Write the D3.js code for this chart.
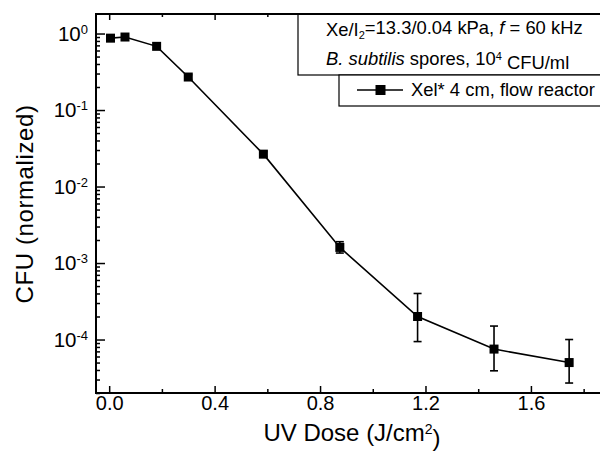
<!DOCTYPE html>
<html><head><meta charset="utf-8">
<script src="https://cdn.jsdelivr.net/npm/d3@7"></script>
<style>
body{margin:0;background:#fff;}
text{font-family:"Liberation Sans",Arial,sans-serif;fill:#000;}
</style></head>
<body><svg id="c" width="600" height="451"></svg>
<script>
// ---- data ----
const dose   = [0.005, 0.06, 0.18, 0.30, 0.585, 0.875, 1.17, 1.46, 1.745];
const cfu    = [0.87, 0.90, 0.68, 0.27, 0.0265, 0.0016, 0.0002, 0.000075, 0.00005];
const errLo  = [null, null, null, 0.25, 0.0245, 0.00135, 0.000094, 0.000039, 0.000027];
const errHi  = [null, null, null, 0.29, 0.0287, 0.0019, 0.0004, 0.00015, 0.0001];
const xTicks = [0, 0.4, 0.8, 1.2, 1.6];
const xMinor = [0.2, 0.6, 1.0, 1.4, 1.8];
const yExp   = [0, -1, -2, -3, -4];
const seriesName = "Xel* 4 cm, flow reactor";

const svg = d3.select("#c");
const L = 96, R = 610, T = 14, B = 393;
const x = d3.scaleLinear().domain([-0.05, 1.9]).range([L, R]);
const y = d3.scaleLog().domain([2e-5, 1.8]).range([B, T]);

// minor y ticks
const yMinor = [];
for (let e = -5; e <= 0; e++) for (let m = 2; m <= 9; m++) { const v = m * Math.pow(10, e); if (v >= 2e-5 && v <= 1.8) yMinor.push(v); }

// frame
svg.append("rect").attr("x", L).attr("y", T).attr("width", R - L).attr("height", B - T)
  .attr("fill", "none").attr("stroke", "#000").attr("stroke-width", 2);

// axes
const gx = svg.append("g").attr("transform", `translate(0,${B})`)
  .call(d3.axisBottom(x).tickValues(xTicks).tickSize(-7).tickPadding(4).tickFormat(d3.format(".1f")));
const gxm = svg.append("g").attr("transform", `translate(0,${B})`)
  .call(d3.axisBottom(x).tickValues(xMinor).tickSize(-4).tickFormat(""));
const gxt = svg.append("g").attr("transform", `translate(0,${T})`)
  .call(d3.axisTop(x).tickValues(xTicks).tickSize(-6).tickFormat(""));
const gxtm = svg.append("g").attr("transform", `translate(0,${T})`)
  .call(d3.axisTop(x).tickValues(xMinor).tickSize(-3).tickFormat(""));
const gy = svg.append("g").attr("transform", `translate(${L},0)`)
  .call(d3.axisLeft(y).tickValues(yExp.map(e => Math.pow(10, e))).tickSize(-9).tickFormat(""));
const gym = svg.append("g").attr("transform", `translate(${L},0)`)
  .call(d3.axisLeft(y).tickValues(yMinor).tickSize(-4).tickFormat(""));
[gx, gxm, gxt, gxtm, gy, gym].forEach(g => {
  g.select(".domain").remove();
  g.selectAll("line").attr("stroke", "#000").attr("stroke-width", 1.5);
});
gx.selectAll("text").attr("font-size", 20).attr("font-family", "Liberation Sans, Arial").attr("fill", "#000")
  .attr("dy", null).attr("y", 17);

// y tick labels with superscripts
yExp.forEach(e => {
  const t = svg.append("text").attr("x", 88).attr("y", y(Math.pow(10, e))).attr("dy", "0.36em")
    .attr("text-anchor", "end").attr("font-size", 20.5);
  t.append("tspan").text("10");
  t.append("tspan").attr("dy", "-0.55em").attr("font-size", 13).text(String(e));
});

// axis titles
svg.append("text").attr("x", 352).attr("y", 441).attr("text-anchor", "middle").attr("font-size", 24)
  .call(t => { t.append("tspan").text("UV Dose (J/cm");
               t.append("tspan").attr("dy", "-0.5em").attr("font-size", 14).text("2");
               t.append("tspan").attr("dy", "0.5em").text(")"); });
svg.append("text").attr("transform", "translate(33,204) rotate(-90)").attr("text-anchor", "middle")
  .attr("font-size", 24).attr("letter-spacing", 0.6).text("CFU (normalized)");

// series
const pts = dose.map((d, i) => ({ x: d, y: cfu[i], lo: errLo[i], hi: errHi[i] }));
svg.append("path").datum(pts).attr("fill", "none").attr("stroke", "#000").attr("stroke-width", 1.6)
  .attr("d", d3.line().x(d => x(d.x)).y(d => y(d.y)));
const eb = svg.append("g").attr("stroke", "#000").attr("stroke-width", 1.6);
pts.filter(d => d.lo != null).forEach(d => {
  const cx = x(d.x);
  eb.append("line").attr("x1", cx).attr("x2", cx).attr("y1", y(d.lo)).attr("y2", y(d.hi));
  eb.append("line").attr("x1", cx - 4).attr("x2", cx + 4).attr("y1", y(d.lo)).attr("y2", y(d.lo));
  eb.append("line").attr("x1", cx - 4).attr("x2", cx + 4).attr("y1", y(d.hi)).attr("y2", y(d.hi));
});
svg.append("g").selectAll("rect").data(pts).join("rect")
  .attr("x", d => x(d.x) - 4.5).attr("y", d => y(d.y) - 4.5).attr("width", 9).attr("height", 9).attr("fill", "#000");

// legend / annotation boxes
svg.append("rect").attr("x", 298).attr("y", T).attr("width", 320).attr("height", 61)
  .attr("fill", "#fff").attr("stroke", "#000").attr("stroke-width", 1.2);
svg.append("rect").attr("x", 339).attr("y", 75).attr("width", 280).attr("height", 31)
  .attr("fill", "#fff").attr("stroke", "#000").attr("stroke-width", 1.2);
svg.append("line").attr("x1", L).attr("x2", R).attr("y1", T).attr("y2", T).attr("stroke", "#000").attr("stroke-width", 2);

const fs = 18.4;
const l1 = svg.append("text").attr("x", 326).attr("y", 36).attr("font-size", fs);
l1.append("tspan").text("Xe/I");
l1.append("tspan").attr("dy", "0.3em").attr("font-size", 11).text("2");
l1.append("tspan").attr("dy", "-0.3em").text("=13.3/0.04 kPa, ");
l1.append("tspan").attr("font-style", "italic").text("f");
l1.append("tspan").text(" = 60 kHz");

const l2 = svg.append("text").attr("x", 326).attr("y", 65).attr("font-size", fs);
l2.append("tspan").attr("font-style", "italic").text("B. subtilis");
l2.append("tspan").text(" spores, 10");
l2.append("tspan").attr("dy", "-0.5em").attr("font-size", 11).text("4");
l2.append("tspan").attr("dy", "0.5em").text(" CFU/ml");

svg.append("line").attr("x1", 357).attr("x2", 403).attr("y1", 90).attr("y2", 90).attr("stroke", "#000").attr("stroke-width", 1.6);
svg.append("rect").attr("x", 375.5).attr("y", 85).attr("width", 10).attr("height", 10).attr("fill", "#000");
svg.append("text").attr("x", 411).attr("y", 96).attr("font-size", fs).text(seriesName);
</script></body></html>
